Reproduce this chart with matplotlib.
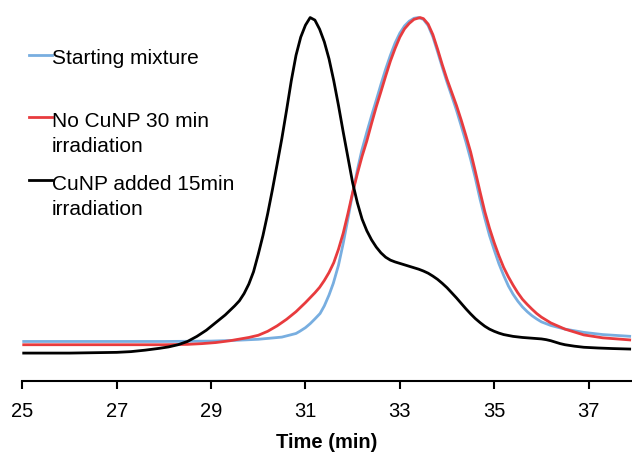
import matplotlib
matplotlib.use("Agg")
import matplotlib.pyplot as plt

plt.rcParams['font.family'] = ['Liberation Sans', 'DejaVu Sans']

# elution profiles (signal normalised to peak = 100)
t_start = [25.0, 28.0, 29.0, 29.5, 30.0, 30.5, 30.8, 30.88, 31.0, 31.1, 31.2, 31.31,
           31.4, 31.5, 31.59, 31.7, 31.8, 31.9, 32.0, 32.1, 32.19, 32.3, 32.4, 32.5,
           32.6, 32.7, 32.8, 32.9, 33.0, 33.1, 33.2, 33.3, 33.39, 33.5, 33.6, 33.7,
           33.8, 33.9, 34.0, 34.1, 34.2, 34.3, 34.4, 34.5, 34.6, 34.7, 34.8, 34.9,
           35.0, 35.1, 35.2, 35.3, 35.4, 35.5, 35.6, 35.7, 35.8, 35.9, 36.0, 36.2,
           36.5, 36.9, 37.3, 37.9]
y_start = [10.8, 10.8, 10.9, 11.1, 11.4, 12.0, 13.0, 13.6, 14.6, 15.7, 17.0, 18.5,
           20.6, 23.6, 26.8, 31.8, 37.8, 44.6, 51.6, 58.0, 63.2, 68.4, 72.9, 77.2,
           81.6, 85.8, 89.6, 93.0, 95.7, 97.7, 99.0, 99.8, 100.0, 99.5, 97.8, 94.7,
           90.6, 86.3, 82.2, 78.4, 74.5, 70.2, 65.8, 61.0, 55.8, 50.0, 44.8, 40.0,
           36.0, 32.2, 29.0, 26.1, 23.8, 21.9, 20.3, 19.0, 17.9, 17.0, 16.2, 15.2,
           14.2, 13.3, 12.7, 12.2]

t_nocu = [25.0, 27.0, 28.0, 28.5, 28.8, 29.1, 29.4, 29.8, 30.0, 30.2, 30.4, 30.6,
          30.8, 31.0, 31.2, 31.3, 31.4, 31.5, 31.6, 31.7, 31.8, 31.9, 32.0, 32.1,
          32.2, 32.3, 32.4, 32.5, 32.6, 32.7, 32.8, 32.9, 33.0, 33.1, 33.2, 33.3,
          33.43, 33.5, 33.6, 33.7, 33.8, 33.9, 34.0, 34.1, 34.2, 34.3, 34.4, 34.5,
          34.6, 34.7, 34.8, 34.9, 35.0, 35.1, 35.2, 35.3, 35.4, 35.5, 35.6, 35.7,
          35.8, 35.9, 36.0, 36.2, 36.5, 36.9, 37.3, 37.9]
y_nocu = [9.9, 9.9, 9.9, 10.0, 10.2, 10.5, 11.0, 11.9, 12.5, 13.6, 15.1, 16.9,
          19.0, 21.5, 24.2, 25.7, 27.6, 29.8, 32.5, 36.2, 40.6, 46.0, 51.8, 57.0,
          61.8, 66.0, 70.8, 75.4, 79.6, 83.9, 88.0, 91.5, 94.6, 96.9, 98.4, 99.5,
          100.0, 99.7, 98.2, 95.3, 91.3, 87.0, 83.0, 79.4, 75.8, 71.8, 67.5, 63.0,
          57.6, 52.0, 46.6, 42.0, 38.0, 34.4, 31.2, 28.6, 26.3, 24.2, 22.4, 21.0,
          19.7, 18.5, 17.5, 15.9, 14.2, 12.6, 11.8, 11.2]

t_cu = [25.0, 26.0, 27.0, 27.3, 27.6, 27.9, 28.1, 28.3, 28.5, 28.7, 28.9, 29.1,
        29.3, 29.5, 29.6, 29.7, 29.8, 29.9, 30.0, 30.1, 30.2, 30.3, 30.4, 30.5,
        30.6, 30.7, 30.8, 30.9, 31.0, 31.1, 31.2, 31.3, 31.4, 31.5, 31.6, 31.7,
        31.8, 31.9, 32.0, 32.1, 32.2, 32.3, 32.4, 32.5, 32.6, 32.7, 32.8, 32.9,
        33.0, 33.1, 33.2, 33.3, 33.4, 33.5, 33.6, 33.7, 33.8, 33.9, 34.0, 34.1,
        34.2, 34.3, 34.4, 34.5, 34.6, 34.7, 34.8, 34.9, 35.0, 35.1, 35.2, 35.4,
        35.6, 35.8, 36.0, 36.1, 36.2, 36.3, 36.4, 36.5, 36.7, 36.9, 37.2, 37.5,
        37.9]
y_cu = [7.6, 7.6, 7.8, 8.0, 8.4, 8.9, 9.3, 9.9, 10.8, 12.2, 13.9, 16.0,
        18.1, 20.6, 22.0, 24.0, 26.6, 30.0, 34.8, 40.0, 46.0, 52.6, 59.6, 66.7,
        74.5, 82.6, 89.6, 94.6, 97.9, 100.0, 99.3, 96.8, 93.3, 88.6, 82.6, 75.8,
        68.5, 61.5, 54.5, 49.0, 44.5, 41.3, 38.8, 36.8, 35.2, 34.0, 33.2, 32.7,
        32.3, 31.9, 31.5, 31.1, 30.7, 30.2, 29.6, 28.8, 27.9, 26.8, 25.6, 24.2,
        22.8, 21.3, 19.8, 18.4, 17.1, 16.0, 15.0, 14.2, 13.6, 13.1, 12.7, 12.2,
        11.9, 11.7, 11.5, 11.3, 11.0, 10.6, 10.2, 9.9, 9.5, 9.2, 9.0, 8.85,
        8.7]

labels = ["Starting mixture", "No CuNP 30 min\nirradiation", "CuNP added 15min\nirradiation"]
colors = ["#78aee0", "#e83b3e", "#000000"]
xticks = [25, 27, 29, 31, 33, 35, 37]

fig = plt.figure(figsize=(6.32, 4.57), dpi=100)
ax = fig.add_axes([0.0353, 0.167, 0.9647, 0.824])

series = [(t_start, y_start), (t_nocu, y_nocu), (t_cu, y_cu)]
for (t, y), c in zip(series, colors):
    ax.plot(t, y, color=c, lw=2.0, solid_joinstyle='round', solid_capstyle='butt')

ax.set_xlim(25, 37.92)
ax.set_ylim(0, 103.7)
for s in ['top', 'right', 'left']:
    ax.spines[s].set_visible(False)
ax.spines['bottom'].set_linewidth(1.5)
ax.set_yticks([])
ax.set_xticks(xticks)
ax.tick_params(axis='x', direction='out', length=6, width=1.5, labelsize=14.5, pad=9)
ax.set_xlabel("Time (min)", fontsize=14.5, fontweight='bold', labelpad=9)

# legend drawn by hand so the key sits on the first line of each label
key_y = [0.8647, 0.6994, 0.5328]
text_y = [0.881, 0.7136, 0.5464]
for lab, c, ky, ty in zip(labels, colors, key_y, text_y):
    ax.plot([0.011, 0.048], [ky, ky], color=c, lw=2.0, transform=ax.transAxes,
            clip_on=False)
    ax.text(0.0487, ty, lab, transform=ax.transAxes, fontsize=15, va='top',
            ha='left', linespacing=1.38)

fig.savefig("out.png", dpi=100)
